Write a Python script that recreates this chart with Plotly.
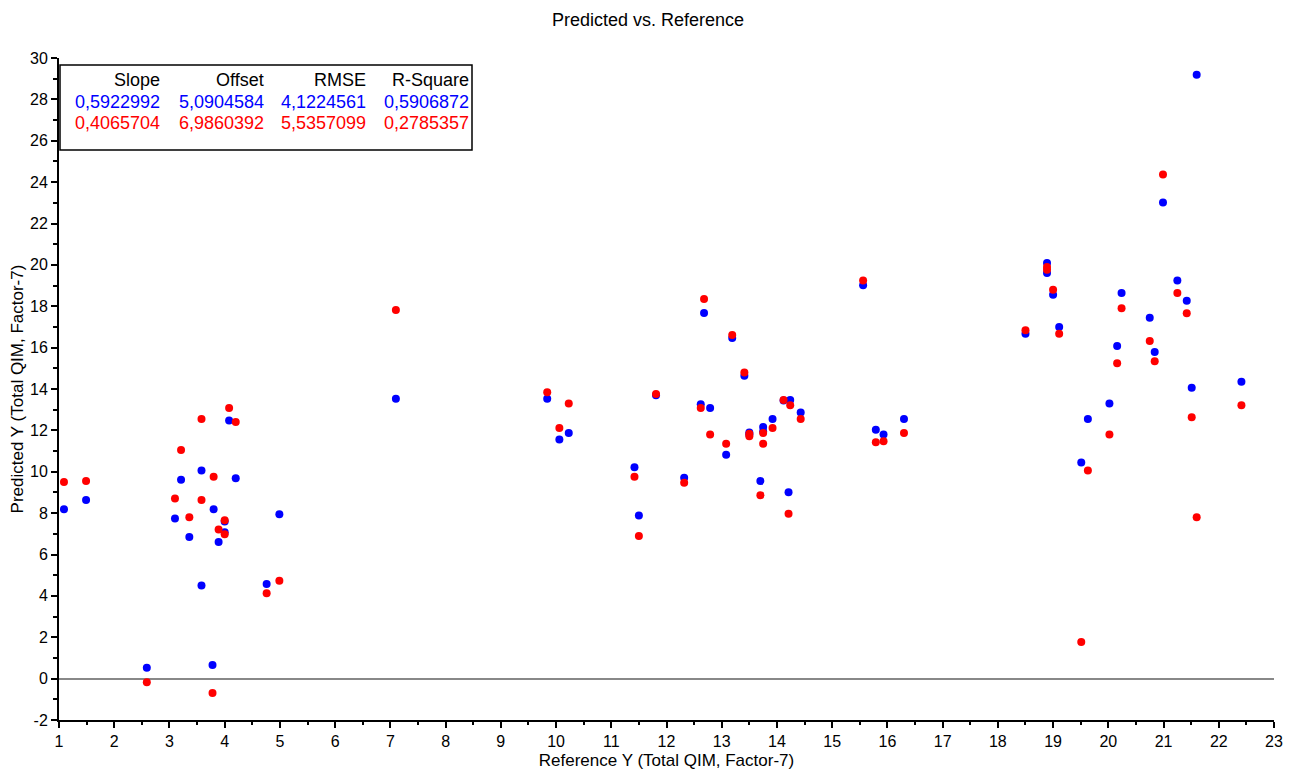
import plotly.graph_objects as go

# Sample reference values (x) shared by both series
reference_y = [1.09, 1.49, 2.59, 3.10, 3.21, 3.36, 3.58, 3.58, 3.78, 3.80, 3.89, 4.00, 4.00,
               4.08, 4.20, 4.76, 4.99, 7.10, 9.84, 10.06, 10.23, 11.42, 11.50, 11.81, 12.32,
               12.62, 12.68, 12.79, 13.08, 13.19, 13.41, 13.50, 13.50, 13.70, 13.75, 13.75,
               13.92, 14.12, 14.24, 14.21, 14.43, 15.56, 15.79, 15.93, 16.30, 18.50, 18.89,
               18.89, 19.00, 19.11, 19.51, 19.63, 20.02, 20.16, 20.24, 20.75, 20.84, 20.99,
               21.25, 21.42, 21.51, 21.60, 22.41]

predicted_blue = [8.19, 8.64, 0.52, 7.74, 9.61, 6.84, 10.06, 4.50, 0.66, 8.19, 6.60, 7.08, 7.60,
                  12.48, 9.69, 4.58, 7.95, 13.53, 13.53, 11.56, 11.87, 10.22, 7.89, 13.70, 9.71,
                  13.26, 17.67, 13.08, 10.82, 16.46, 14.64, 11.90, 11.80, 9.55, 12.16, 11.95,
                  12.55, 13.45, 13.47, 9.01, 12.87, 19.01, 12.03, 11.80, 12.55, 16.67, 20.09,
                  19.61, 18.56, 17.00, 10.45, 12.55, 13.30, 16.08, 18.64, 17.45, 15.79, 23.01,
                  19.25, 18.27, 14.06, 29.19, 14.35]

predicted_red = [9.50, 9.55, -0.18, 8.71, 11.05, 7.80, 12.55, 8.64, -0.69, 9.76, 7.21, 6.98, 7.66,
                 13.08, 12.40, 4.13, 4.73, 17.82, 13.84, 12.11, 13.30, 9.76, 6.90, 13.76, 9.47,
                 13.08, 18.35, 11.80, 11.35, 16.61, 14.80, 11.84, 11.71, 8.87, 11.87, 11.35,
                 12.11, 13.47, 13.22, 7.97, 12.55, 19.25, 11.42, 11.48, 11.87, 16.84, 19.90,
                 19.77, 18.80, 16.67, 1.77, 10.06, 11.80, 15.25, 17.90, 16.32, 15.34, 24.37,
                 18.64, 17.66, 12.63, 7.80, 13.22]

stat_headers = ["Slope", "Offset", "RMSE", "R-Square"]
stats_blue = ["0,5922992", "5,0904584", "4,1224561", "0,5906872"]
stats_red = ["0,4065704", "6,9860392", "5,5357099", "0,2785357"]

x_ticks = list(range(1, 24))
y_ticks = list(range(-2, 31, 2))

FONT = "Liberation Sans, Arial, sans-serif"

W, H = 1288, 765  # page body adds an 8px offset

fig = go.Figure()
fig.add_trace(go.Scatter(x=reference_y, y=predicted_blue, mode="markers",
                         marker=dict(color="#0000FF", size=8), showlegend=False))
fig.add_trace(go.Scatter(x=reference_y, y=predicted_red, mode="markers",
                         marker=dict(color="#FF0000", size=8), showlegend=False))

fig.update_layout(
    width=W, height=H,
    margin=dict(l=51, r=22, t=50, b=53),
    paper_bgcolor="white", plot_bgcolor="white",
    font=dict(family=FONT, size=16, color="black"),
    title=dict(text="Predicted vs. Reference", x=(648 - 8) / W, xref="container",
               xanchor="center",
               y=1 - 12 / H, yref="container", yanchor="middle",
               font=dict(family=FONT, size=18, color="black")),
)

fig.update_xaxes(
    range=[1, 23], tickvals=x_ticks, ticktext=[str(v) for v in x_ticks],
    showgrid=False, zeroline=False, automargin=False,
    showline=True, linecolor="black", linewidth=2,
    ticks="outside", ticklen=6, tickwidth=2, tickcolor="black",
    minor=dict(dtick=0.5, tick0=0, ticks="outside", ticklen=3, tickwidth=2, tickcolor="black"),
    tickfont=dict(family=FONT, size=16),
    title=dict(text="Reference Y (Total QIM, Factor-7)", standoff=5,
               font=dict(family=FONT, size=17)),
)
fig.update_yaxes(
    range=[-2, 30], tickvals=y_ticks, ticktext=[str(v) for v in y_ticks],
    showgrid=False, zeroline=True, zerolinecolor="#888888", zerolinewidth=1.5,
    showline=True, linecolor="black", linewidth=2, automargin=False,
    ticks="outside", ticklen=6, tickwidth=2, tickcolor="black",
    minor=dict(dtick=1, tick0=0, ticks="outside", ticklen=4, tickwidth=2, tickcolor="black"),
    tickfont=dict(family=FONT, size=16),
    title=dict(text="Predicted Y (Total QIM, Factor-7)", standoff=5,
               font=dict(family=FONT, size=17)),
)

# Statistics box
pw, ph = 1215.0, 662.0
fig.add_shape(type="rect", xref="paper", yref="paper",
              x0=1 / pw, x1=413 / pw, y0=(720 - 150) / ph, y1=(720 - 65) / ph,
              line=dict(color="black", width=1.5), fillcolor="white", layer="above")

col_x = [103 / pw, 207 / pw, 309 / pw, 412 / pw]
row_y = [(720 - 80) / ph, (720 - 102) / ph, (720 - 123) / ph]
rows = [(stat_headers, "black"), (stats_blue, "#0000FF"), (stats_red, "#FF0000")]
for (texts, color), yy in zip(rows, row_y):
    for t, xx in zip(texts, col_x):
        fig.add_annotation(text=t, x=xx, y=yy, xref="paper", yref="paper",
                           xanchor="right", yanchor="middle", showarrow=False,
                           font=dict(family=FONT, size=18, color=color))

fig.write_html("out.html")
